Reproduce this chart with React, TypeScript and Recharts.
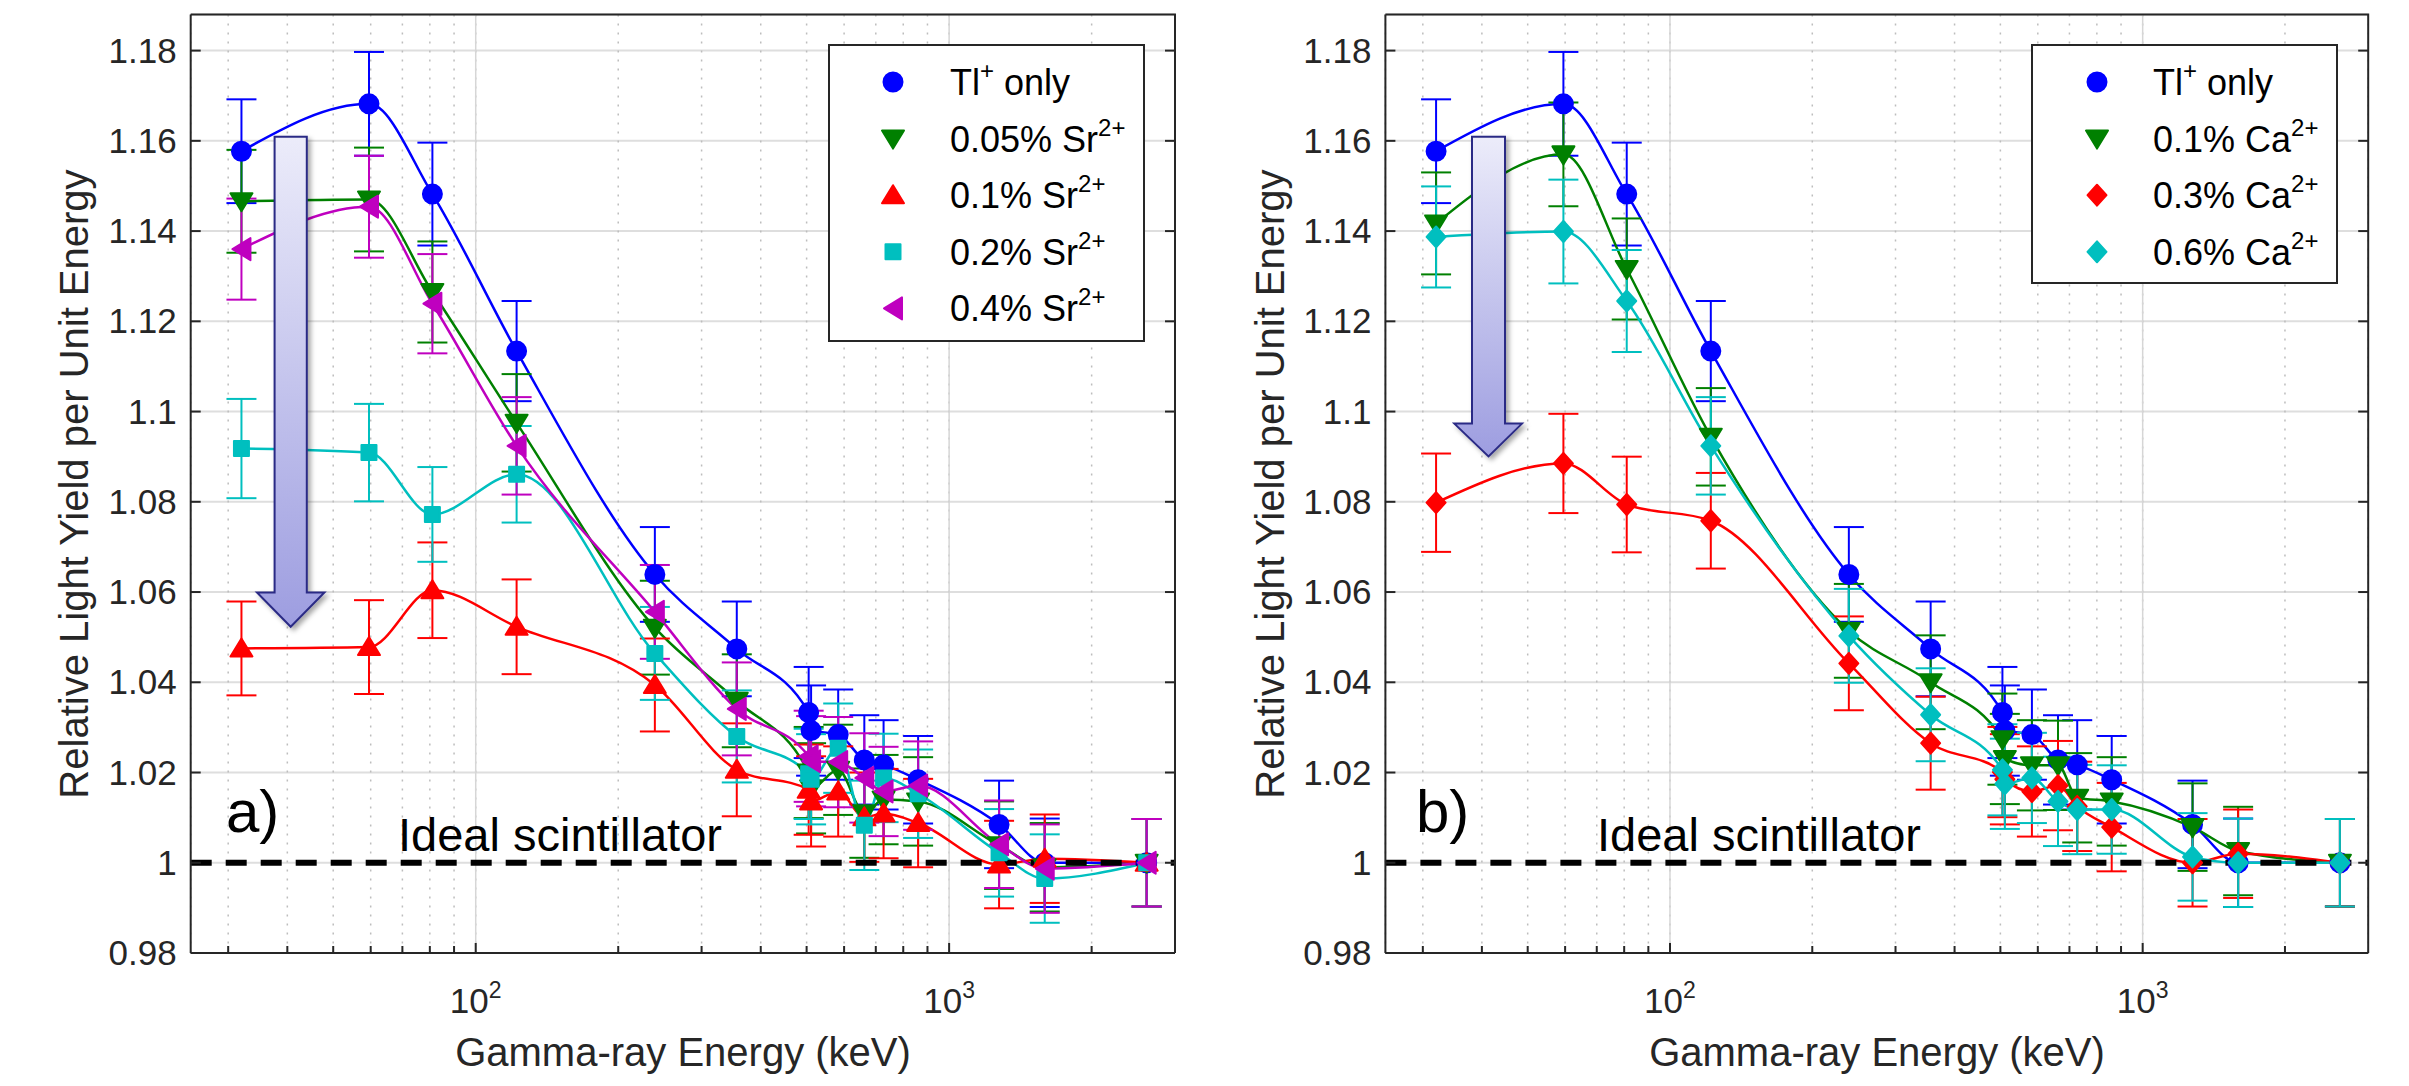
import React from "react";
import {
  ComposedChart,
  Line,
  XAxis,
  YAxis,
  CartesianGrid,
  ReferenceLine,
  ErrorBar,
} from "recharts";

const FONT = '"Liberation Sans", Arial, Helvetica, sans-serif';
const AXIS = "#262626";

// gamma-ray energies measured (keV)
const energyKeV = [32, 59.5, 81, 122, 239, 356, 505, 511, 583, 662, 727, 860, 1275, 1592, 2614];

// Tl+ only, same crystal in both panels
const tlOnly = [1.1577, 1.1682, 1.1482, 1.1134, 1.0639, 1.0474, 1.0333, 1.0293, 1.0284, 1.0228, 1.0217, 1.0184, 1.0085, 1.0, 1.0];
const tlOnlyErr = [0.0115, 0.0115, 0.0114, 0.0111, 0.0105, 0.0105, 0.0101, 0.01, 0.01, 0.0099, 0.0099, 0.0097, 0.0097, 0.0098, 0.0097];

// a) Sr2+ co-doping
const sr005 = [1.1466, 1.147, 1.1265, 1.0975, 1.0521, 1.0359, 1.02, 1.0165, 1.0206, 1.011, 1.014, 1.0136, 1.0039, 0.999, 1.0];
const sr005Err = [0.0114, 0.0115, 0.0112, 0.0108, 0.0104, 0.0103, 0.0101, 0.01, 0.01, 0.0099, 0.0099, 0.0098, 0.0097, 0.0098, 0.0097];
const sr01 = [1.0475, 1.0478, 1.0604, 1.0523, 1.0394, 1.0206, 1.0162, 1.0136, 1.0158, 1.0101, 1.0109, 1.0088, 0.9996, 1.0009, 1.0];
const sr01Err = [0.0104, 0.0104, 0.0106, 0.0105, 0.0103, 0.0103, 0.01, 0.01, 0.01, 0.0099, 0.0099, 0.0098, 0.0097, 0.0098, 0.0097];
const sr02 = [1.0918, 1.0909, 1.0772, 1.0861, 1.0464, 1.028, 1.0197, 1.0185, 1.0254, 1.0083, 1.0188, 1.0153, 1.0022, 0.9965, 1.0];
const sr02Err = [0.011, 0.0108, 0.0105, 0.0107, 0.0103, 0.0102, 0.01, 0.01, 0.0099, 0.0099, 0.0098, 0.0098, 0.0097, 0.0098, 0.0097];
const sr04 = [1.136, 1.1454, 1.1239, 1.0924, 1.0556, 1.0341, 1.0236, 1.0225, 1.0223, 1.0188, 1.0158, 1.0171, 1.0041, 0.9987, 1.0];
const sr04Err = [0.0112, 0.0113, 0.011, 0.0108, 0.0104, 0.0103, 0.0101, 0.01, 0.01, 0.0099, 0.0099, 0.0098, 0.0097, 0.0098, 0.0097];

// b) Ca2+ co-doping
const ca01 = [1.1417, 1.157, 1.1316, 1.0944, 1.0514, 1.04, 1.0274, 1.023, 1.0216, 1.0216, 1.0144, 1.0136, 1.0079, 1.0026, 1.0];
const ca01Err = [0.0113, 0.0115, 0.0112, 0.0108, 0.0104, 0.0104, 0.0101, 0.01, 0.01, 0.0099, 0.0099, 0.0098, 0.0097, 0.0098, 0.0097];
const ca03 = [1.0798, 1.0885, 1.0794, 1.0758, 1.0442, 1.0265, 1.0201, 1.0185, 1.0158, 1.0171, 1.0125, 1.0079, 1.0, 1.002, 1.0];
const ca03Err = [0.0109, 0.011, 0.0106, 0.0106, 0.0104, 0.0103, 0.01, 0.01, 0.01, 0.0099, 0.0099, 0.0098, 0.0097, 0.0098, 0.0097];
const ca06 = [1.1387, 1.1399, 1.1245, 1.0924, 1.0503, 1.0328, 1.0206, 1.0175, 1.0188, 1.0136, 1.0118, 1.0118, 1.0013, 1.0, 1.0];
const ca06Err = [0.0112, 0.0115, 0.0113, 0.0108, 0.0104, 0.0103, 0.0101, 0.01, 0.01, 0.0099, 0.0099, 0.0098, 0.0097, 0.0098, 0.0097];

const yTicks = [0.98, 1, 1.02, 1.04, 1.06, 1.08, 1.1, 1.12, 1.14, 1.16, 1.18];
const xMajor = [100, 1000];
const xMinor = [30, 40, 50, 60, 70, 80, 90, 200, 300, 400, 500, 600, 700, 800, 900, 2000];
const xAll = [...xMinor, ...xMajor].sort((a, b) => a - b);
const xDomain = [25, 3000];
const yDomain = [0.98, 1.188];

type Shape = "circle" | "down" | "up" | "square" | "left" | "diamond";
type Series = {
  name: string;
  label: [string, string, string];
  color: string;
  shape: Shape;
  values: number[];
  errors: number[];
};

const BLUE = "#0000ff";
const GREEN = "#008000";
const RED = "#ff0000";
const CYAN = "#00bfbf";
const MAGENTA = "#bf00bf";

const srSeries: Series[] = [
  { name: "tl", label: ["Tl", "+", " only"], color: BLUE, shape: "circle", values: tlOnly, errors: tlOnlyErr },
  { name: "sr005", label: ["0.05% Sr", "2+", ""], color: GREEN, shape: "down", values: sr005, errors: sr005Err },
  { name: "sr01", label: ["0.1% Sr", "2+", ""], color: RED, shape: "up", values: sr01, errors: sr01Err },
  { name: "sr02", label: ["0.2% Sr", "2+", ""], color: CYAN, shape: "square", values: sr02, errors: sr02Err },
  { name: "sr04", label: ["0.4% Sr", "2+", ""], color: MAGENTA, shape: "left", values: sr04, errors: sr04Err },
];

const caSeries: Series[] = [
  { name: "tl", label: ["Tl", "+", " only"], color: BLUE, shape: "circle", values: tlOnly, errors: tlOnlyErr },
  { name: "ca01", label: ["0.1% Ca", "2+", ""], color: GREEN, shape: "down", values: ca01, errors: ca01Err },
  { name: "ca03", label: ["0.3% Ca", "2+", ""], color: RED, shape: "diamond", values: ca03, errors: ca03Err },
  { name: "ca06", label: ["0.6% Ca", "2+", ""], color: CYAN, shape: "diamond", values: ca06, errors: ca06Err },
];

const pts = (cx: number, cy: number, p: number[][]) =>
  p.map(([dx, dy]) => `${cx + dx},${cy + dy}`).join(" ");

const Marker = ({ shape, cx, cy, color }: { shape: Shape; cx: number; cy: number; color: string }) => {
  const st = { fill: color, stroke: color, strokeWidth: 2, strokeLinejoin: "round" as const };
  switch (shape) {
    case "circle":
      return <circle cx={cx} cy={cy} r={9.5} {...st} />;
    case "down":
      return <polygon points={pts(cx, cy, [[-11, -8], [11, -8], [0, 10]])} {...st} />;
    case "up":
      return <polygon points={pts(cx, cy, [[0, -10], [11, 8], [-11, 8]])} {...st} />;
    case "square":
      return <rect x={cx - 7.5} y={cy - 7.5} width={15} height={15} {...st} />;
    case "left":
      return <polygon points={pts(cx, cy, [[-9, 0], [9, -11], [9, 11]])} {...st} />;
    default:
      return <polygon points={pts(cx, cy, [[0, -10.5], [9.5, 0], [0, 10.5], [-9.5, 0]])} {...st} />;
  }
};

// tick marks are drawn inward, labels only on the decades
const BottomTick = (props: any) => {
  const { x, y, payload } = props;
  const major = xMajor.includes(payload.value);
  return (
    <g>
      <line x1={x} x2={x} y1={y} y2={y - (major ? 10 : 7)} stroke={AXIS} strokeWidth={2} />
      {major && (
        <text x={x} y={y + 60} textAnchor="middle" fontFamily={FONT} fontSize={35} fill={AXIS}>
          10
          <tspan dy={-15} fontSize={23}>
            {Math.round(Math.log10(payload.value))}
          </tspan>
        </text>
      )}
    </g>
  );
};

const TopTick = (props: any) => {
  const { x, y, payload } = props;
  const major = xMajor.includes(payload.value);
  return <line x1={x} x2={x} y1={y} y2={y + (major ? 10 : 7)} stroke={AXIS} strokeWidth={2} />;
};

const fmtY = (v: number) => String(+v.toFixed(2));

const LeftTick = (props: any) => {
  const { x, y, payload } = props;
  return (
    <g>
      <line x1={x} x2={x + 10} y1={y} y2={y} stroke={AXIS} strokeWidth={2} />
      <text x={x - 14} y={y + 12} textAnchor="end" fontFamily={FONT} fontSize={35} fill={AXIS}>
        {fmtY(payload.value)}
      </text>
    </g>
  );
};

const RightTick = (props: any) => {
  const { x, y } = props;
  return <line x1={x} x2={x - 10} y1={y} y2={y} stroke={AXIS} strokeWidth={2} />;
};

const Panel = ({ series, width, yAxisWidth, marginRight }: { series: Series[]; width: number; yAxisWidth: number; marginRight: number }) => (
  <ComposedChart width={width} height={1086} margin={{ top: 13.5, right: marginRight, bottom: 132, left: 0 }}>
    <CartesianGrid vertical={false} stroke="#dedede" strokeWidth={2} />
    <CartesianGrid horizontal={false} stroke="#bdbdbd" strokeWidth={1.5} strokeDasharray="2 7" />
    {xMajor.map((v) => (
      <ReferenceLine key={v} x={v} stroke="#d6d6d6" strokeWidth={1.5} />
    ))}
    <XAxis
      dataKey="e"
      type="number"
      scale="log"
      domain={xDomain}
      ticks={xAll}
      interval={0}
      allowDataOverflow
      height={1}
      tickSize={0}
      tickMargin={0}
      tickLine={false}
      axisLine={{ stroke: AXIS, strokeWidth: 2 }}
      tick={<BottomTick />}
    />
    <XAxis
      xAxisId="top"
      orientation="top"
      type="number"
      scale="log"
      domain={xDomain}
      ticks={xAll}
      interval={0}
      allowDataOverflow
      height={1}
      tickSize={0}
      tickMargin={0}
      tickLine={false}
      axisLine={false}
      tick={<TopTick />}
    />
    <YAxis
      type="number"
      domain={yDomain}
      ticks={yTicks}
      interval={0}
      allowDataOverflow
      width={yAxisWidth}
      tickSize={0}
      tickMargin={0}
      tickLine={false}
      axisLine={{ stroke: AXIS, strokeWidth: 2 }}
      tick={<LeftTick />}
    />
    <YAxis
      yAxisId="right"
      orientation="right"
      type="number"
      domain={yDomain}
      ticks={yTicks}
      interval={0}
      allowDataOverflow
      width={1}
      tickSize={0}
      tickMargin={0}
      tickLine={false}
      axisLine={false}
      tick={<RightTick />}
    />
    {series.map((s) => (
      <Line
        key={s.name}
        data={energyKeV.map((e, i) => ({ e, v: s.values[i], err: s.errors[i] }))}
        dataKey="v"
        type="monotone"
        stroke={s.color}
        strokeWidth={2.5}
        dot={(p: any) => <Marker key={`${s.name}-${p.index}`} shape={s.shape} cx={p.cx} cy={p.cy} color={s.color} />}
        activeDot={false}
        isAnimationActive={false}
      >
        <ErrorBar dataKey="err" width={15} stroke={s.color} strokeWidth={2} direction="y" isAnimationActive={false} />
      </Line>
    ))}
    <ReferenceLine y={1} stroke="#000" strokeWidth={6} strokeDasharray="21 14" />
  </ComposedChart>
);

const LegendBox = ({ series, x, y, w, h, markerX, textX }: { series: Series[]; x: number; y: number; w: number; h: number; markerX: number; textX: number }) => (
  <g>
    <rect x={x} y={y} width={w} height={h} fill="#fff" stroke={AXIS} strokeWidth={2} />
    {series.map((s, i) => {
      const cy = 82 + i * 56.6;
      return (
        <g key={s.name}>
          <Marker shape={s.shape} cx={markerX} cy={cy} color={s.color} />
          <text x={textX} y={cy + 13} fontFamily={FONT} fontSize={36} fill="#000">
            {s.label[0]}
            <tspan dy={-16} fontSize={24}>
              {s.label[1]}
            </tspan>
            <tspan dy={16}>{s.label[2]}</tspan>
          </text>
        </g>
      );
    })}
  </g>
);

const Arrow = ({ id, shaftL, shaftR, top, headTop, headL, headR, tip }: { id: string; shaftL: number; shaftR: number; top: number; headTop: number; headL: number; headR: number; tip: number }) => (
  <g filter="url(#arrowShadow)">
    <defs>
      <linearGradient id={id} x1="0" y1="0" x2="0" y2="1">
        <stop offset="0%" stopColor="#ececfa" />
        <stop offset="100%" stopColor="#9d9de0" />
      </linearGradient>
    </defs>
    <path
      d={`M${shaftL},${top} H${shaftR} V${headTop} H${headR} L${(shaftL + shaftR) / 2},${tip} L${headL},${headTop} H${shaftL} Z`}
      fill={`url(#${id})`}
      stroke="#2b2b85"
      strokeWidth={2}
      strokeLinejoin="miter"
    />
  </g>
);

const Annotations = () => (
  <svg width={2409} height={1086} style={{ position: "absolute", left: 0, top: 0, pointerEvents: "none" }}>
    <defs>
      <filter id="arrowShadow" x="-30%" y="-10%" width="160%" height="120%">
        <feDropShadow dx="3" dy="3" stdDeviation="2.5" floodColor="#000" floodOpacity="0.35" />
      </filter>
    </defs>
    {/* plot box: top and right edges */}
    <path d="M190.7,14.5 H1175 V953" fill="none" stroke={AXIS} strokeWidth={2} />
    <path d="M1385.4,14.5 H2368.2 V953" fill="none" stroke={AXIS} strokeWidth={2} />

    <Arrow id="gradA" shaftL={274.6} shaftR={306.8} top={136.8} headTop={592.5} headL={257} headR={324.4} tip={626.8} />
    <Arrow id="gradB" shaftL={1472} shaftR={1505} top={136.8} headTop={423.6} headL={1454.3} headR={1522} tip={456.4} />

    <text x={226} y={832} fontFamily={FONT} fontSize={60} fill="#000">a)</text>
    <text x={1416} y={832} fontFamily={FONT} fontSize={60} fill="#000">b)</text>
    <text x={398} y={851} fontFamily={FONT} fontSize={47} fill="#000">Ideal scintillator</text>
    <text x={1597} y={851} fontFamily={FONT} fontSize={47} fill="#000">Ideal scintillator</text>

    <text transform="translate(88,484) rotate(-90)" textAnchor="middle" fontFamily={FONT} fontSize={40} fill={AXIS}>
      Relative Light Yield per Unit Energy
    </text>
    <text transform="translate(1284,484) rotate(-90)" textAnchor="middle" fontFamily={FONT} fontSize={40} fill={AXIS}>
      Relative Light Yield per Unit Energy
    </text>
    <text x={683} y={1066} textAnchor="middle" fontFamily={FONT} fontSize={40} fill={AXIS}>
      Gamma-ray Energy (keV)
    </text>
    <text x={1877} y={1066} textAnchor="middle" fontFamily={FONT} fontSize={40} fill={AXIS}>
      Gamma-ray Energy (keV)
    </text>

    <LegendBox series={srSeries} x={829} y={45} w={315} h={296} markerX={893} textX={950} />
    <LegendBox series={caSeries} x={2032} y={45} w={305} h={238} markerX={2097} textX={2153} />
  </svg>
);

const App = () => (
  <div style={{ position: "absolute", left: 0, top: 0, width: 2409, height: 1086, background: "#fff", overflow: "hidden" }}>
    <div style={{ position: "absolute", left: 0, top: 0 }}>
      <Panel series={srSeries} width={1200} yAxisWidth={190.7} marginRight={24} />
    </div>
    <div style={{ position: "absolute", left: 1200, top: 0 }}>
      <Panel series={caSeries} width={1209} yAxisWidth={185.4} marginRight={39.8} />
    </div>
    <Annotations />
  </div>
);

export default App;
